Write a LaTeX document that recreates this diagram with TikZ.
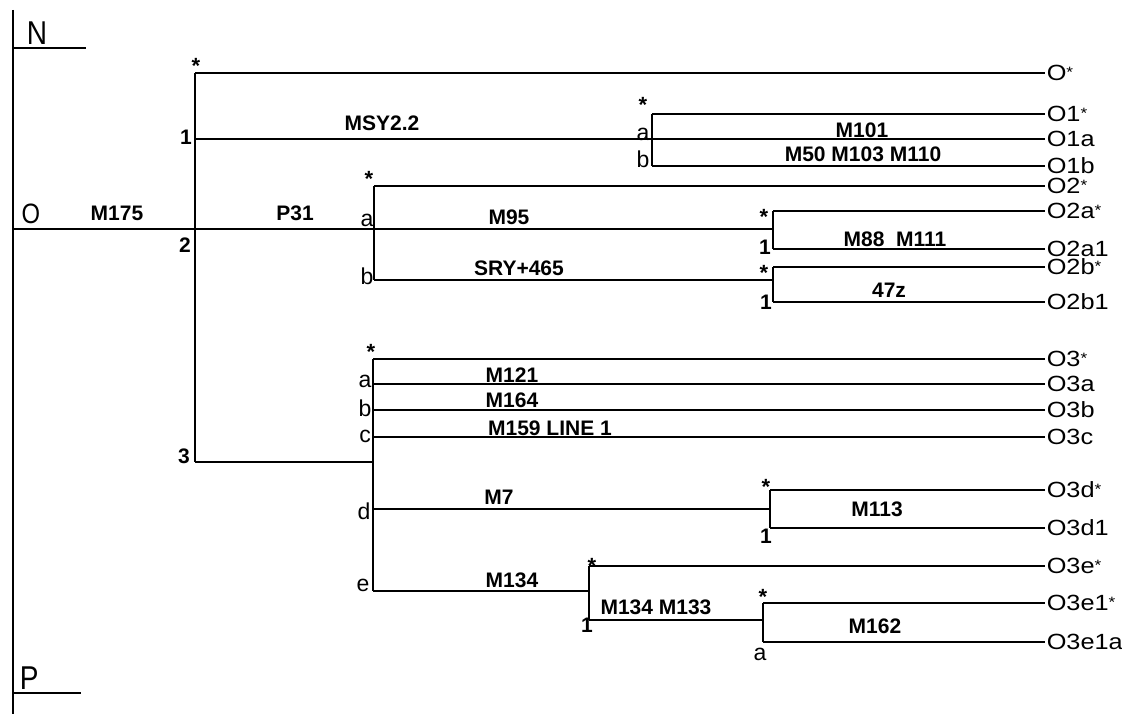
\documentclass[tikz,border=0pt]{standalone}
\usepackage{fontspec}
\setmainfont{Liberation Sans}
\newfontfamily\leaffont[FakeStretch=1.15]{Liberation Sans}
\newfontfamily\axfont[FakeStretch=0.85]{Liberation Sans}
\newcommand{\lst}{{\fontsize{15}{15}\selectfont\raisebox{3pt}{*}}}
\begin{document}
\begin{tikzpicture}[x=1pt,y=-1pt,line width=1.6pt,
  leaf/.style={anchor=west,inner xsep=1pt,inner ysep=0pt,font=\leaffont\fontsize{22}{22}\selectfont},
  mlab/.style={inner sep=0pt,font=\bfseries\fontsize{21}{21}\selectfont},
  blab/.style={inner sep=0pt,font=\fontsize{23}{23}\selectfont},
  nlab/.style={inner sep=0pt,font=\bfseries\fontsize{21}{21}\selectfont},
  starlab/.style={inner sep=0pt,anchor=base,yshift=-12pt,font=\bfseries\fontsize{22}{22}\selectfont},
  axlab/.style={inner sep=0pt,anchor=base west,font=\axfont\fontsize{33}{33}\selectfont}]
\useasboundingbox (0,0) rectangle (1122,714);

% axis and margin labels
\coordinate (axtop) at (13,10);
\coordinate (axbot) at (13,714);
\draw (axtop) -- (axbot);
\coordinate (n0) at (13,48); \coordinate (n1) at (86,48);
\draw (n0) -- (n1);
\node[axlab] (N) at (26,45) {N};
\coordinate (p0) at (13,693); \coordinate (p1) at (81,693);
\draw (p0) -- (p1);
\node[axlab] (P) at (19,689) {P};
\node[inner sep=0pt,font=\axfont\fontsize{28}{28}\selectfont] (O) at (31,214) {O};

% leaves
\node[leaf] (Ost) at (1045,73) {O\lst};
\node[leaf] (O1st) at (1045,114) {O1\lst};
\node[leaf] (O1a) at (1045,139) {O1a};
\node[leaf] (O1b) at (1045,166) {O1b};
\node[leaf] (O2st) at (1045,186) {O2\lst};
\node[leaf] (O2ast) at (1045,211) {O2a\lst};
\node[leaf] (O2a1) at (1045,249) {O2a1};
\node[leaf] (O2bst) at (1045,267) {O2b\lst};
\node[leaf] (O2b1) at (1045,302) {O2b1};
\node[leaf] (O3st) at (1045,359) {O3\lst};
\node[leaf] (O3a) at (1045,384) {O3a};
\node[leaf] (O3b) at (1045,410) {O3b};
\node[leaf] (O3c) at (1045,437) {O3c};
\node[leaf] (O3dst) at (1045,490) {O3d\lst};
\node[leaf] (O3d1) at (1045,528) {O3d1};
\node[leaf] (O3est) at (1045,566) {O3e\lst};
\node[leaf] (O3e1st) at (1045,603) {O3e1\lst};
\node[leaf] (O3e1a) at (1045,642) {O3e1a};

% root and main split
\coordinate (r0) at (13,229);
\coordinate (m0) at (195,73);
\coordinate (m1) at (195,139);
\coordinate (m2) at (195,229);
\coordinate (m3) at (195,462);
\draw (r0) -- (m2);
\draw (m0) -- (m3);
\draw (m0) -- (Ost.west);
\node[starlab] (sm) at (196,62) {*};
\node[nlab] (l1) at (186,137) {1};
\node[nlab] (l2) at (185,245) {2};
\node[nlab] (l3) at (184,456) {3};
\node[mlab] (M175) at (117,213) {M175};
\node[mlab] (P31) at (295,213) {P31};
\node[mlab] (MSY) at (382,123) {MSY2.2};

% subtree 1
\coordinate (s1t) at (652,114);
\coordinate (s1a) at (652,139);
\coordinate (s1b) at (652,166);
\draw (m1) -- (s1a);
\draw (s1t) -- (s1b);
\draw (s1t) -- (O1st.west);
\draw (s1a) -- (O1a.west);
\draw (s1b) -- (O1b.west);
\node[starlab] (s1s) at (643,101) {*};
\node[blab] (s1la) at (643,134) {a};
\node[blab] (s1lb) at (643,159) {b};
\node[mlab] (M101) at (862,130) {M101};
\node[mlab] (M50) at (863,154) {M50 M103 M110};

% subtree 2
\coordinate (s2t) at (374,186);
\coordinate (s2a) at (374,229);
\coordinate (s2b) at (374,280);
\draw (m2) -- (s2a);
\draw (s2t) -- (s2b);
\draw (s2t) -- (O2st.west);
\node[starlab] (s2s) at (369,175) {*};
\node[blab] (s2la) at (367,220) {a};
\node[blab] (s2lb) at (367,276) {b};
\node[mlab] (M95) at (509,217) {M95};
\node[mlab] (SRY) at (519,268) {SRY+465};

% subtree 2a
\coordinate (s2at) at (773,211);
\coordinate (s2am) at (773,229);
\coordinate (s2a1) at (773,249);
\draw (s2a) -- (s2am);
\draw (s2at) -- (s2a1);
\draw (s2at) -- (O2ast.west);
\draw (s2a1) -- (O2a1.west);
\node[starlab] (s2as) at (764,213) {*};
\node[nlab] (s2al) at (765,247) {1};
\node[mlab] (M88) at (895,239) {M88\ \ M111};

% subtree 2b
\coordinate (s2bt) at (773,267);
\coordinate (s2bm) at (773,280);
\coordinate (s2b1) at (773,302);
\draw (s2b) -- (s2bm);
\draw (s2bt) -- (s2b1);
\draw (s2bt) -- (O2bst.west);
\draw (s2b1) -- (O2b1.west);
\node[starlab] (s2bs) at (764,268) {*};
\node[nlab] (s2bl) at (766,302) {1};
\node[mlab] (z47) at (889,290) {47z};

% subtree 3
\coordinate (s3t) at (373,359);
\coordinate (s3a) at (373,384);
\coordinate (s3b) at (373,410);
\coordinate (s3c) at (373,437);
\coordinate (s3m) at (373,462);
\coordinate (s3d) at (373,509);
\coordinate (s3e) at (373,591);
\draw (m3) -- (s3m);
\draw (s3t) -- (s3e);
\draw (s3t) -- (O3st.west);
\draw (s3a) -- (O3a.west);
\draw (s3b) -- (O3b.west);
\draw (s3c) -- (O3c.west);
\node[starlab] (s3s) at (371,347) {*};
\node[blab] (s3la) at (365,381) {a};
\node[blab] (s3lb) at (365,408) {b};
\node[blab] (s3lc) at (365,436) {c};
\node[blab] (s3ld) at (364,511) {d};
\node[blab] (s3le) at (363,585) {e};
\node[mlab] (M121) at (512,375) {M121};
\node[mlab] (M164) at (512,400) {M164};
\node[mlab] (M159) at (550,428) {M159 LINE 1};
\node[mlab] (M7) at (499,497) {M7};
\node[mlab] (M134) at (512,580) {M134};

% subtree 3d
\coordinate (s3dt) at (770,490);
\coordinate (s3dm) at (770,509);
\coordinate (s3d1) at (770,528);
\draw (s3d) -- (s3dm);
\draw (s3dt) -- (s3d1);
\draw (s3dt) -- (O3dst.west);
\draw (s3d1) -- (O3d1.west);
\node[starlab] (s3ds) at (766,482) {*};
\node[nlab] (s3dl) at (766,536) {1};
\node[mlab] (M113) at (877,509) {M113};

% subtree 3e
\coordinate (s3et) at (589,566);
\coordinate (s3em) at (589,591);
\coordinate (s3e1) at (589,620);
\draw (s3e) -- (s3em);
\draw (s3et) -- (s3e1);
\draw (s3et) -- (O3est.west);
\node[starlab] (s3es) at (592,561) {*};
\node[nlab] (s3el) at (587,625) {1};
\node[mlab] (M134b) at (656,607) {M134 M133};

% subtree 3e1
\coordinate (s3e1t) at (763,603);
\coordinate (s3e1m) at (763,620);
\coordinate (s3e1a) at (763,642);
\draw (s3e1) -- (s3e1m);
\draw (s3e1t) -- (s3e1a);
\draw (s3e1t) -- (O3e1st.west);
\draw (s3e1a) -- (O3e1a.west);
\node[starlab] (s3e1s) at (763,592) {*};
\node[blab] (s3e1l) at (760,654) {a};
\node[mlab] (M162) at (875,626) {M162};
\end{tikzpicture}
\end{document}
